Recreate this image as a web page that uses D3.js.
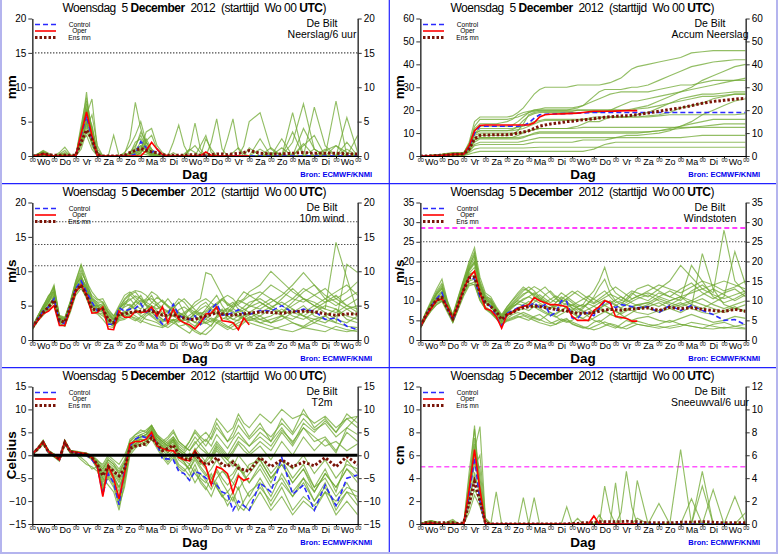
<!DOCTYPE html>
<html>
<head>
<meta charset="utf-8">
<script src="https://cdn.jsdelivr.net/npm/d3@7"></script>
<style>
body { margin: 0; background: #fff; }
svg { display: block; font-family: "Liberation Sans", Arial, sans-serif; }
</style>
</head>
<body>
<svg id="chart" width="778" height="554"></svg>
<script>
// forecast steps (hours after Wo 00 UTC), 6-hourly to day 10, then 12-hourly
const hours = [0,6,12,18,24,30,36,42,48,54,60,66,72,78,84,90,96,102,108,114,120,126,132,138,144,150,156,162,168,174,180,186,192,198,204,210,216,222,228,234,240,252,264,276,288,300,312,324,336,348,360];
const dayLabels = ["Wo","Do","Vr","Za","Zo","Ma","Di","Wo","Do","Vr","Za","Zo","Ma","Di","Wo"];
const legendLabels = ["Control", "Oper", "Ens mn"];
const titleParts = [["Woensdag  5 ", "normal"], ["December", "bold"], ["  2012  (starttijd  Wo 00 ", "normal"], ["UTC", "bold"], [")", "normal"]];

// tick labels per panel
const precipTicks = [0,5,10,15,20];
const accumTicks = [0,10,20,30,40,50,60];
const windTicks = [0,5,10,15,20];
const gustTicks = [0,5,10,15,20,25,30,35];
const tempTicks = [-15,-10,-5,0,5,10,15];
const snowTicks = [0,2,4,6,8,10,12];

// reference lines
const precipRefs = [15];
const windRefs = [10.8, 13.9, 17.2];
const gustRefs = [20, 25];
const gustAlarm = [28.5];
const snowAlarm = [5];
const tempZero = [0];

// ---- Neerslag/6 uur (mm)
const precipControl = [0,.1,.3,.1, 0,0,0,0, 0,3.0,5.8,2.5, 0,0,0,0, 0,0,0,.3, 2.1,1.2,.5,1.0, .1,0,0,0, 0,0,0,0, 0,0,0,0, 0,0,0,0, 0, 0,0,0,0,0,0,0,0,0,0];
const precipOper = [0,.1,.3,.1, 0,0,0,0, 0,3.2,6.4,3.0, 0,0,0,0, 0,0,0,0, 0,.8,2.0,1.0, .2,0,0,0, 0,0,0,0, .6,.1,0,0, 0,0,0,0, 0];
const precipMean = [0,.1,.3,.2, .1,.1,.1,.1, .1,2.0,3.8,2.5, .2,0,0,0, 0,.1,.5,.8, 1.1,.8,.6,.5, .2,.1,.1,.1, .1,.2,.2,.1, .2,.2,.3,.3, .2,.3,.4,.5, .8, .4,.3,.3,.4,.5,.4,.4,.4,.3,.3];
const precipMembers = [
  [0,.2,.6,.2, 0,0,.3,0, 0,3.5,9.3,2.0, 0,0,0,0, 0,0,.5,1.5, 3.0,1.2,.5,.2, 0,0,0,0, .3,1.0,.5,0, 0,0,0,0, 0,.5,1.2,.3, 0, 0,.5,.2,0,0,0,.8,1.5,.5,0],
  [0,.1,.3,.1, 0,.5,1.3,.2, 0,4.0,7.5,3.0, .2,0,0,0, 0,.3,2.5,7.8, 4.0,1.5,.5,0, 0,0,.5,0, 0,0,0,0, 0,2.0,5.4,1.0, 0,0,0,0, 0, 1.0,0,0,2.0,7.6,1.0,0,0,0,0],
  [0,.3,.8,.4, 0,.2,.5,.1, 0,2.5,6.0,8.3, 1.0,0,0,0, 0,0,0,.5, 1.2,2.5,1.0,.3, 0,0,0,0, 0,1.0,4.8,1.0, 0,0,0,0, 0,0,0,1.5, 5.0, 6.3,1.0,0,0,0,0,1.0,0,0,0],
  [0,0,.2,0, 0,0,0,0, 0,2.0,5.0,1.5, 0,0,0,3.0, 0,0,0,.8, 2.0,.8,0,0, 0,0,0,0, 0,0,0,0, 0,0,0,0, 2.5,5.4,1.0,0, 0, 0,1.2,0,0,0,7.1,1.5,0,0,0],
  [0,.2,.5,.2, 0,0,.1,0, 0,3.0,8.0,4.0, .3,0,0,0, 0,.5,1.5,3.0, 5.0,2.0,.8,0, 0,0,0,0, 0,0,0,0, 0,0,0,0, 0,0,0,0, 0, 0,0,2.5,0,0,0,0,8.0,0,0],
  [0,.1,.2,.1, 0,0,0,0, 0,1.0,3.5,2.0, 0,0,0,0, 0,0,0,.3, .8,3.5,4.0,1.5, .5,0,0,0, 0,0,0,0, 0,0,0,0, 0,0,0,0, 0, 0,0,0,3.5,0,0,0,0,5.6,.5],
  [0,0,.3,.2, 0,.3,.8,0, 0,3.8,6.5,4.5, .5,0,0,0, 0,0,.2,.6, 1.5,1.0,.3,0, 0,0,2.0,4.5, 1.5,0,0,0, 0,0,0,0, 0,0,0,0, 0, 0,0,0,0,1.5,3.0,0,0,0,3.0],
  [0,.2,.4,0, 0,0,0,0, 0,2.8,5.5,2.5, .3,0,0,0, 0,0,0,0, .5,2.0,1.0,0, 0,0,0,0, 0,.8,1.5,.5, 0,0,0,0, 0,0,0,0, 0, 0,0,1.2,0,0,0,0,0,1.0,0],
  [0,.3,.7,.3, 0,0,.2,0, 0,4.5,8.5,3.5, .2,0,0,0, 0,0,0,1.2, 3.5,2.0,.5,0, 0,0,0,0, 0,0,0,0, 2.5,1.0,0,0, 0,0,0,0, 0, 0,0,0,0,4.0,1.0,0,0,0,0],
  [0,0,.1,0, 0,0,.1,0, 0,2.2,4.5,1.8, 0,0,0,0, 0,0,.3,2.0, 2.5,1.0,.2,0, 0,0,0,0, 0,0,0,0, 0,0,0,0, 0,0,0,0, 1.2, 0,0,0,0,0,0,0,1.5,0,0],
  [0,.1,.3,.1, 0,.2,.3,0, 0,3.2,7.0,3.0, .2,0,0,0, 0,0,0,.4, 1.0,.5,0,0, 0,0,0,0, 0,0,0,1.5, 3.0,.5,0,0, 0,0,0,0, 0, 2.5,0,0,0,0,0,0,0,2.0,0],
  [0,.2,.5,.1, 0,0,0,0, 0,1.5,4.0,6.0, 1.5,0,0,0, 0,0,0,0, .3,.2,0,0, 0,0,0,0, 0,0,0,0, 0,0,0,0, 0,0,0,0, 0, 0,0,0,6.3,0,0,0,0,0,0],
  [0,0,.2,.1, 0,0,0,0, 0,2.0,3.0,1.0, 0,0,0,0, 0,0,0,0, .5,1.5,.5,0, 0,0,0,0, 0,0,0,0, 0,0,0,0, 0,0,0,0, 0, 0,0,0,0,0,1.0,0,0,0,0],
  [0,.2,.5,.2, 0,0,0,0, 0,3.5,6.8,2.0, 0,0,0,0, 0,0,.5,1.0, 1.5,.8,.2,0, 0,0,0,0, 0,0,0,0, 0,0,0,0, 0,0,0,0, 0, 0,0,0,0,1.8,0,0,0,0,0],
  [0,.1,.2,0, 0,0,.2,0, 0,2.5,5.2,4.2, .5,0,0,0, 0,0,0,.2, .8,.5,.2,0, 0,0,0,0, 0,0,0,0, 0,0,0,0, 0,0,0,0, 0, 0,0,0,0,0,0,0,0,0,0],
  [0,.3,.5,.2, 0,0,0,0, 0,1.8,4.8,3.8, .6,0,0,0, 0,0,0,0, .5,2.2,3.0,1.0, 0,0,0,0, 0,0,0,0, 0,0,0,0, 0,0,0,0, 0, 0,0,0,0,0,0,0,0,0,0]
];

// ---- Accum Neerslag (mm)
const accumControl = [0,0,.1,.2, .3,.5,.7,.8, .8,4,10,13, 13,13,13,13, 13,13,13,13.2, 14.5,16.5,18,18.2, 18.3,18.4,18.5,18.5, 18.6,18.7,18.8,18.9, 19,19,19,19, 19,19,19,19, 19, 19,19,19,19,19,19,19,19,19,19];
const accumOper = [0,0,.1,.2, .3,.5,.7,.8, .8,4.5,11,13.3, 13.5,13.5,13.5,13.5, 13.5,13.5,13.5,13.5, 13.5,14.5,17,18, 18.2,18.3,18.4,18.5, 18.6,18.7,19,19.3, 19.5,19.5,19.5,19.5, 19.6,19.7,19.8,19.8, 19.8];
const accumMean = [0,0,.1,.2, .3,.5,.7,.8, .9,3,7.5,9, 9.2,9.2,9.3,9.3, 9.3,9.5,10,10.5, 11,12,13,13.5, 14,14.3,14.6,15, 15.2,15.5,15.8,16, 16.3,16.6,16.9,17.1, 17.3,17.5,17.6,17.8, 18, 18.8,19.5,20.3,21,22,23,23.8,24.3,24.8,25.2];
const accumMembers = [
  [0,0,.2,.4, .6,1.0,1.2,1.2, 1.2,6,15,17, 17,17,17,17, 17,17.5,19,21, 24,27,29,30, 30,30,30,30, 30.5,31,31,31, 31,31,31.5,32, 33,34,36,38, 39, 40,41,42,43,45,45.5,46,46,46,46],
  [0,0,.1,.2, .3,.5,.6,.6, .6,4,9,10, 10,10,10,10, 10,10,10,10.5, 11,11.5,12,12, 12,12,12,12, 12,12.2,12.5,12.5, 12.5,12.5,12.5,12.5, 12.5,12.5,12.5,12.5, 12.5, 12.5,12.5,12.5,12.5,12.5,12.5,12.5,12.5,12.5,12.5],
  [0,0,0,.1, .1,.2,.3,.3, .3,1.5,3,3.5, 3.5,3.5,3.5,3.5, 3.5,3.5,3.5,3.5, 3.6,3.7,3.8,3.8, 3.8,3.8,3.8,3.8, 3.8,3.8,3.8,3.8, 3.8,3.8,3.8,3.8, 3.8,3.8,3.8,3.8, 3.8, 3.8,3.8,3.8,3.8,3.8,3.8,3.8,3.8,3.8,3.8],
  [0,.1,.3,.5, .8,1.2,1.5,1.5, 1.5,5,12,14, 14,14,14,14.5, 15,16,18,19, 19.5,20,20,20, 20,20,20,20, 20.5,21,22,24, 26,28,29,29, 29,29,29.5,30, 30, 31,33,35,37,39,40,41,41.5,42,42],
  [0,0,.2,.3, .5,.8,1.0,1.0, 1.0,3,7,8, 8,8,8,8, 8,8.2,9,10, 11,11.5,12,12, 12,12,12,12, 12.5,13,14,15, 15,15,16,17, 17,17,17,17, 17, 17.5,18,19,21,22,23,25,26,27,27],
  [0,.1,.2,.3, .4,.6,.8,.8, .8,4,10,12, 12,12,12,12, 12,12,12.5,13, 14,15,15.5,16, 16,16,16,16, 16,16,16,16, 16,16.5,17,17, 17,17,17,17, 17, 17,17.5,18,18,18,18,18,18,18,18.5],
  [0,0,.1,.2, .3,.5,.6,.6, .6,3.5,8,9, 9,9,9,9, 9,9.5,11,14, 18,19,19.5,19.5, 19.5,19.5,19.5,19.5, 19.5,20,20,20, 20,20,20,20, 20,20,20,20.5, 21, 22,24,26,28,30,33,35,37,39,40],
  [0,0,.1,.2, .3,.4,.5,.5, .5,2,5,6, 6,6,6,6, 6,6,6,6.5, 7,7.5,8,8, 8,8,8,8, 8,8,8,8, 8,8,8,8, 8,8,8,8, 8, 8,8,8,8,8.5,9,9,9,9,9],
  [0,.1,.3,.4, .6,1.0,1.3,1.3, 1.3,5,11,13, 13,13,13,13, 13,13.5,15,17, 19,20,20.5,21, 21,21,21,21, 21,21.5,22,23, 24,25,26,27, 27.5,28,28,28, 28, 28,29,30,31,31,32,33,33,33,33],
  [0,0,.1,.1, .2,.3,.4,.4, .4,2.5,6,7.5, 7.5,7.5,7.5,7.5, 7.5,7.5,7.5,8, 9,10,10.5,10.5, 10.5,10.5,10.5,10.5, 10.5,10.5,10.5,10.5, 10.5,10.5,10.5,10.5, 10.5,10.5,10.5,10.5, 10.5, 10.5,11,12,13,14,15,16,16,16,16],
  [0,0,.2,.3, .4,.7,.9,.9, .9,4.5,10,11, 11,11,11,11, 11,11,11.5,12, 13,14,15,15.5, 15.5,15.5,15.5,15.5, 15.5,15.5,16,16.5, 17,17,17,17, 17,17,17,17.5, 18, 19,21,23,25,26,27,27,27.5,28,28],
  [0,0,0,0, .1,.1,.2,.2, .2,.8,1.5,2, 2,2,2,2, 2,2,2,2, 2,2,2,2, 2,2,2,2, 2,2,2,2.5, 3,4,5,5.5, 6,6,6,6, 6, 6,6,6,6,6,6,6,6,6,6],
  [0,.1,.2,.3, .5,.8,1.0,1.0, 1.0,4,9.5,11, 11,11,11,11, 11,11.5,13,15.5, 17.5,18.5,19,19, 19,19,19,19, 19,19,19,19, 19,19,19.5,20, 21,22,23,24, 24, 25,26,27,28,29,30,31,32,33,34],
  [0,0,.1,.2, .3,.5,.6,.6, .6,3,7,8, 8,8,8,8, 8,8,8,8.5, 9,9.5,10,10, 10,10,10,10, 10,10,10,10, 10,10,10,10, 10,10,10,10, 10, 10.5,11,11.5,12,12.5,13,13.5,14,14,14],
  [0,.1,.2,.4, .6,.9,1.1,1.1, 1.1,5,13,16, 16,16,16,16, 16,16.5,17,18, 19,19.5,20,20, 20,20,20,20, 20,20,20,20, 20,20,20,20, 20,20,20,20, 20.5, 21,22,23,24,25,26,26,26.5,27,27],
  [0,0,.1,.2, .3,.4,.5,.5, .5,2,4.5,5, 5,5,5,5, 5,5,5,5, 5.5,6,6,6, 6,6,6,6, 6,6.5,7,7, 7,7,7,7.5, 8,8.5,9,9, 9, 9.5,10,11,13,15,18,20,22,24,25]
];

// ---- 10m wind (m/s)
const windControl = [1.8,3.0,4.2,4.8, 6.0,2.5,2.4,5.0, 7.5,8.6,7.0,5.5, 4.2,4.5,2.3,2.3, 4.7,4.2,4.5,4.6, 5.3,4.0,4.5,3.2, 2.3,3.8,5.2,3.6, 3.2,3.0,3.5,2.3, 3.5,4.5,5.3,3.6, 3.7,4.0,4.4,3.8, 3.7, 4.3,4.2,5.0,4.0,4.5,4.2,3.0,3.2,2.0,1.5];
const windOper = [1.8,2.8,3.8,4.2, 5.0,2.1,2.1,4.5, 7.0,8.0,6.5,3.9, 4.0,4.8,1.6,1.5, 4.2,3.3,3.3,4.2, 4.0,4.1,4.8,3.5, 4.8,2.5,4.5,3.0, 2.5,2.2,1.6,2.5, 3.8,3.9,4.8,2.8, 2.7,2.5,1.5,3.2, 2.2];
const windMean = [1.8,3.0,4.0,4.8, 5.8,2.8,2.6,4.8, 7.2,8.0,6.5,4.5, 4.4,4.5,3.0,2.5, 3.8,3.8,4.0,4.1, 4.2,4.3,4.2,4.0, 3.6,3.6,3.7,3.4, 3.2,3.0,3.0,3.3, 3.5,3.7,4.0,3.8, 3.7,3.6,3.7,3.8, 3.9, 4.1,4.0,3.9,4.1,4.2,4.1,3.8,3.6,3.8,3.8];
const windMembers = [
  [1.6,3.2,4.5,5.5, 7.5,3.0,2.8,5.0, 7.8,9.5,7.0,5.5, 4.5,5.0,3.5,2.8, 4.5,5.5,6.0,5.0, 4.5,5.5,6.5,5.0, 4.0,3.5,4.5,5.5, 4.0,3.0,2.5,3.5, 4.5,5.5,6.5,5.0, 4.0,4.5,6.0,7.0, 6.5, 5.5,4.5,6.0,7.5,6.0,5.0,4.5,14.2,9.0,4.0],
  [2.0,3.5,4.8,6.5, 7.0,3.2,3.0,5.5, 8.5,10.8,8.0,5.0, 5.0,4.0,2.5,2.0, 3.5,4.0,4.5,5.5, 6.5,5.0,4.0,3.5, 3.0,2.5,3.0,2.0, 1.5,1.0,2.0,3.0, 2.5,2.0,3.5,4.5, 3.0,2.5,2.0,3.0, 4.0, 3.5,2.5,3.0,4.0,5.0,3.5,3.0,2.5,11.0,9.8],
  [1.5,2.8,3.8,4.5, 6.5,2.5,2.0,4.5, 7.0,8.5,7.5,6.0, 5.5,5.5,4.0,3.0, 4.0,5.0,6.5,7.0, 6.0,5.5,5.0,4.5, 5.0,6.0,5.0,4.0, 3.5,4.5,5.5,6.0, 9.8,9.5,8.0,6.5, 5.0,5.5,4.5,4.0, 5.0, 6.5,8.0,7.0,6.0,5.5,6.5,7.5,6.0,5.0,4.5],
  [1.8,3.0,4.2,5.0, 5.8,2.8,2.5,4.8, 7.2,8.0,6.5,4.2, 4.0,3.5,2.8,2.2, 3.0,3.2,3.8,4.2, 3.5,3.0,2.8,2.5, 2.0,2.5,3.0,2.8, 2.5,2.0,1.5,1.0, 0.8,1.5,2.5,2.0, 1.5,2.0,2.5,2.8, 2.5, 2.0,1.5,2.0,2.5,1.8,1.5,1.2,2.0,1.5,1.2],
  [1.7,3.3,4.6,5.8, 6.8,3.5,3.2,5.5, 8.0,9.0,7.8,6.5, 5.8,6.0,4.5,3.5, 5.0,6.5,7.0,6.2, 5.5,6.0,7.0,6.5, 5.5,5.0,4.5,4.0, 3.5,3.0,4.0,5.0, 5.5,4.5,4.0,3.5, 4.0,5.0,5.5,6.0, 7.0, 8.0,10.0,8.5,7.0,6.0,5.0,6.0,7.0,8.0,6.5],
  [1.9,3.1,3.9,4.8, 6.2,2.9,2.2,4.2, 6.8,7.8,6.0,4.0, 3.8,3.0,2.0,1.8, 3.2,3.5,4.0,3.5, 3.0,3.8,4.5,3.8, 3.0,2.8,2.5,2.0, 2.2,2.8,3.5,4.0, 3.5,3.0,2.5,3.0, 3.5,3.0,2.8,3.5, 4.0, 3.0,3.5,4.5,3.5,3.0,4.0,5.0,4.5,3.5,3.0],
  [1.6,3.4,4.8,6.0, 7.8,3.3,2.6,5.2, 8.2,9.8,8.5,7.0, 6.0,5.5,4.2,3.5, 4.5,6.0,6.8,7.2, 7.0,6.5,5.5,5.0, 4.5,4.0,5.0,6.0, 5.5,4.5,3.5,3.0, 3.5,4.0,5.0,6.0, 6.5,6.0,5.0,4.5, 4.0, 5.0,6.0,5.0,4.0,3.5,4.5,5.5,6.5,5.0,4.0],
  [1.8,2.9,4.0,5.2, 6.0,2.6,2.4,4.6, 7.5,8.2,6.8,4.8, 4.2,4.8,3.2,2.5, 3.8,4.2,3.5,3.0, 2.5,3.5,4.0,3.2, 2.8,3.5,4.2,3.8, 3.0,2.5,2.0,2.5, 3.0,3.8,4.5,4.0, 3.5,3.0,3.5,4.0, 3.5, 2.5,3.0,3.5,2.5,2.0,3.0,3.5,2.5,2.0,1.8],
  [1.7,3.0,4.3,5.6, 6.5,3.1,2.8,5.0, 7.6,8.8,7.2,5.2, 4.8,4.2,3.0,2.6, 4.2,4.8,5.2,4.5, 4.0,4.5,5.0,4.2, 3.8,4.2,3.5,3.0, 2.8,3.2,3.8,4.5, 5.0,4.2,3.8,3.2, 3.0,3.5,4.2,4.8, 5.5, 6.0,5.0,4.0,5.5,7.0,8.0,6.5,5.5,4.5,5.0],
  [1.9,3.3,4.4,5.4, 7.0,3.4,3.0,5.3, 8.0,9.2,7.6,5.8, 5.2,4.6,3.3,2.4, 3.6,3.8,4.4,5.0, 5.8,5.2,4.6,4.0, 3.6,3.2,2.8,2.6, 3.0,3.6,4.2,3.6, 3.0,2.6,3.2,3.8, 4.4,4.0,3.4,3.0, 3.2, 4.0,4.8,5.5,4.5,3.5,3.0,2.5,3.5,4.5,3.5],
  [1.5,2.7,3.6,4.4, 5.5,2.4,2.0,4.0, 6.5,7.5,6.2,4.5, 4.0,3.8,2.5,2.0, 2.8,3.0,3.5,3.2, 2.8,2.5,2.2,2.0, 1.8,2.2,2.8,3.2, 2.5,1.8,1.2,0.8, 1.5,2.2,3.0,2.5, 2.0,1.5,1.8,2.5, 3.0, 2.5,2.0,1.5,1.2,1.8,2.5,2.0,1.5,1.2,1.5],
  [1.8,3.4,4.9,6.2, 8.0,3.6,3.3,5.6, 8.6,11.0,8.8,6.0, 5.0,4.4,3.6,3.0, 4.6,5.2,5.8,6.4, 6.0,5.0,4.6,5.2, 5.8,5.0,4.0,3.4, 3.8,4.4,5.0,5.6, 6.0,5.4,4.8,4.2, 4.6,5.2,5.8,5.4, 5.0, 4.5,5.5,6.5,8.0,9.8,8.0,6.0,5.0,6.0,7.0],
  [1.6,3.1,4.1,5.0, 6.3,2.7,2.3,4.4, 7.1,8.3,6.9,5.0, 4.4,4.0,2.8,2.2, 3.3,4.0,4.8,5.6, 5.0,4.2,3.6,3.0, 2.6,3.0,3.6,4.4, 4.8,4.2,3.4,2.8, 2.4,2.8,3.4,4.0, 4.6,4.2,3.6,3.2, 2.8, 3.5,4.5,3.5,3.0,4.0,5.0,4.0,3.0,2.5,3.5],
  [1.8,3.2,4.6,5.9, 7.2,3.2,2.9,5.1, 7.9,9.1,7.4,5.6, 4.9,5.3,3.8,2.9, 4.4,5.4,5.0,4.4, 3.8,4.6,5.4,6.2, 5.6,4.8,4.2,3.6, 4.0,4.6,4.0,3.4, 4.0,4.6,5.2,5.8, 5.2,4.6,4.0,4.4, 4.8, 5.5,4.5,4.0,5.0,6.0,5.5,4.5,4.0,5.0,6.0],
  [1.7,2.9,4.0,4.9, 6.0,2.8,2.6,4.8, 7.4,8.6,7.0,5.0, 4.6,4.4,3.0,2.6, 3.6,3.6,3.2,2.8, 3.4,4.0,3.4,2.8, 2.2,1.8,2.4,3.0, 3.6,3.0,2.6,2.2, 2.6,3.2,2.8,2.2, 1.8,2.4,3.0,3.6, 3.2, 3.0,2.5,3.5,4.5,3.5,2.5,3.5,4.5,3.0,2.5],
  [1.9,3.5,5.0,6.4, 7.6,3.4,3.1,5.4, 8.3,10.2,8.2,6.2, 5.4,4.9,4.0,3.2, 4.8,5.8,6.6,5.8, 5.2,5.8,6.0,5.4, 4.6,4.2,4.8,5.4, 6.0,5.2,4.4,3.8, 4.2,4.8,5.4,6.0, 5.4,4.8,5.2,5.8, 6.4, 7.0,6.0,5.0,6.0,7.5,6.5,5.5,6.0,7.0,8.5]
];

// ---- Windstoten (m/s)
const gustControl = [3.3,6.0,8.5,10.5, 12.0,8.0,5.0,9.0, 13.0,16.0,15.5,11.0, 9.5,8.5,6.0,3.5, 6.8,7.5,8.2,8.8, 8.5,9.5,8.2,9.0, 6.2,7.0,10.0,9.8, 5.6,5.5,7.0,6.8, 6.2,8.0,9.8,9.4, 8.2,9.0,8.8,8.5, 8.2, 8.5,7.0,8.8,7.5,8.8,7.5,6.5,5.0,5.2,3.8];
const gustOper = [3.3,6.0,8.0,10.0, 10.5,8.5,5.5,9.0, 13.0,16.0,17.5,12.0, 8.0,7.5,6.0,3.0, 6.5,7.0,8.0,8.5, 9.0,10.8,10.0,9.5, 9.0,9.0,8.8,8.5, 6.0,5.0,5.0,5.0, 7.5,8.5,10.0,9.5, 6.0,5.8,5.5,4.8, 4.8];
const gustMean = [3.5,6.2,8.5,10.2, 10.8,8.0,5.5,9.0, 12.8,15.8,16.0,12.0, 9.5,8.5,7.2,5.2, 6.5,7.0,7.8,8.2, 8.5,8.6,8.5,8.3, 8.0,7.8,7.6,7.4, 7.0,6.8,6.8,6.9, 7.0,7.3,7.6,7.8, 7.7,7.6,7.8,7.9, 8.0, 8.2,7.5,8.3,8.0,8.2,7.8,7.5,7.3,7.8,7.3];
const gustMembers = [
  [3.2,6.5,9.0,11.5, 13.0,9.0,5.5,10.0, 14.5,18.0,20.0,13.0, 10.0,9.5,7.5,5.0, 7.0,8.5,9.5,10.5, 11.0,12.0,10.5,9.0, 8.0,9.5,11.0,10.0, 8.0,7.0,8.0,9.5, 11.0,13.5,15.5,12.0, 10.0,9.0,10.5,12.0, 11.0, 10.0,12.0,11.0,10.0,12.5,14.0,12.0,28.0,15.0,12.0],
  [3.8,7.0,10.0,13.0, 15.5,10.0,6.5,11.0, 15.5,20.0,23.5,16.0, 12.0,11.0,8.5,6.5, 8.5,10.0,11.5,13.0, 12.5,11.0,10.0,11.5, 12.5,11.0,9.0,8.0, 7.5,8.5,9.0,8.0, 7.0,8.0,9.0,10.0, 9.0,8.0,7.5,8.5, 9.0, 9.5,8.5,10.0,11.0,9.0,8.0,9.5,11.0,22.5,14.0],
  [3.0,5.5,7.5,9.0, 10.0,7.5,4.5,8.0, 12.0,14.5,14.0,10.0, 8.0,7.0,5.5,4.0, 5.0,5.5,6.0,5.5, 5.0,6.0,6.5,5.5, 4.5,4.0,5.0,5.5, 4.0,3.5,3.0,3.5, 4.5,5.0,4.0,3.5, 3.0,4.0,5.0,4.5, 4.0, 3.5,4.0,5.0,4.0,3.5,3.0,4.0,4.5,3.5,3.0],
  [3.5,6.8,9.5,12.0, 14.0,9.5,6.0,10.5, 15.0,19.0,21.5,14.5, 11.0,10.5,8.0,6.0, 8.0,9.5,11.0,12.5, 13.5,12.5,11.0,10.0, 9.0,8.5,9.5,10.5, 9.5,8.5,9.0,11.0, 12.5,15.0,18.5,14.0, 12.0,11.0,10.0,11.5, 13.0, 14.0,12.5,11.0,13.0,14.5,12.0,10.5,12.0,13.0,11.0],
  [3.3,6.0,8.3,10.0, 11.0,8.0,5.0,9.0, 12.5,16.0,16.5,12.0, 9.5,8.5,6.5,4.5, 6.0,7.0,7.5,8.0, 7.5,8.5,9.0,8.0, 7.0,6.5,7.5,8.5, 7.5,6.0,5.5,6.5, 7.5,8.5,7.5,6.5, 6.0,7.0,8.0,7.5, 7.0, 6.5,7.5,8.5,9.5,8.0,7.0,6.5,7.5,8.5,7.0],
  [3.6,6.4,8.8,11.0, 12.5,8.8,5.8,9.5, 13.5,17.0,18.5,13.0, 10.5,9.0,7.0,5.5, 7.5,9.0,10.0,9.5, 9.0,10.5,11.5,10.5, 9.5,10.5,12.0,11.0, 10.0,9.0,8.5,9.5, 10.5,11.5,12.5,11.0, 9.5,10.0,11.5,12.5, 12.0, 11.0,13.0,15.0,19.0,16.0,13.0,14.0,15.0,14.0,13.0],
  [3.1,5.8,8.0,9.8, 10.5,7.8,4.8,8.5, 12.0,15.0,15.5,11.0, 8.5,7.5,6.0,4.2, 5.5,6.5,7.0,6.5, 6.0,5.5,5.0,6.0, 7.0,6.0,5.0,4.5, 5.0,6.0,7.0,6.0, 5.0,4.5,5.5,6.5, 7.5,6.5,5.5,5.0, 5.5, 6.0,5.0,4.5,5.5,6.5,5.5,4.5,5.0,6.0,5.5],
  [3.4,6.2,8.6,10.6, 12.0,8.6,5.4,9.4, 13.6,17.5,19.5,13.5, 10.2,9.8,7.6,5.6, 7.2,8.6,9.2,8.8, 8.4,9.6,10.6,9.8, 8.8,8.0,8.6,9.4, 8.8,8.0,7.2,7.8, 8.6,9.4,10.2,9.6, 8.8,8.2,9.0,9.8, 10.5, 11.5,10.0,9.0,10.5,19.0,15.0,11.0,9.5,10.5,12.0],
  [3.2,6.0,8.4,10.4, 11.5,8.2,5.0,8.8, 13.0,16.5,17.5,12.5, 9.8,8.8,6.8,4.8, 6.4,7.4,8.2,9.0, 9.8,9.0,8.0,7.2, 6.4,5.8,6.6,7.4, 6.8,6.0,5.4,4.8, 5.6,6.4,7.2,6.6, 6.0,5.4,6.2,7.0, 7.8, 8.5,9.5,8.0,7.0,8.5,22.0,13.0,9.0,8.0,7.5],
  [3.5,6.6,9.2,11.8, 13.5,9.2,6.0,10.2, 14.8,18.5,22.0,14.0, 10.8,10.0,7.8,5.8, 7.8,9.2,10.6,11.8, 12.2,11.4,10.4,9.6, 10.4,11.2,10.4,9.6, 8.8,9.6,10.4,11.2, 10.4,9.6,8.8,9.4, 10.2,11.0,10.2,9.4, 8.8, 9.5,11.0,12.5,11.0,10.0,11.5,13.0,11.5,10.0,11.5],
  [3.0,5.6,7.8,9.4, 10.2,7.4,4.6,8.2, 11.8,14.2,14.8,10.5, 8.2,7.2,5.6,4.0, 5.2,5.8,6.4,7.0, 6.4,5.8,5.2,4.6, 4.2,4.8,5.4,4.8, 4.2,3.6,3.2,2.8, 3.4,4.0,4.6,4.0, 3.4,3.0,3.6,4.2, 4.8, 4.0,3.5,3.0,3.5,4.5,4.0,3.5,3.0,3.5,4.0],
  [3.7,6.9,9.6,12.4, 14.5,9.8,6.2,10.8, 15.2,19.5,22.5,15.0, 11.5,10.2,8.2,6.2, 8.4,10.2,12.0,13.5, 12.5,11.5,12.5,13.5, 12.0,10.5,9.5,10.5, 11.5,12.5,11.5,10.5, 9.5,10.5,11.5,12.5, 13.5,12.5,11.5,10.5, 11.0, 12.5,14.0,13.0,12.0,13.5,15.0,14.0,12.5,13.5,15.0],
  [3.3,6.1,8.5,10.3, 11.2,8.4,5.2,9.2, 13.2,16.8,17.2,12.2, 9.4,8.6,6.6,4.6, 6.2,7.2,8.0,8.6, 9.2,8.4,7.6,6.8, 6.2,6.8,7.6,8.4, 9.0,8.2,7.4,6.6, 7.2,8.0,8.8,8.0, 7.2,6.6,7.4,8.2, 9.0, 8.0,7.0,8.0,9.0,10.0,9.0,8.0,7.0,8.0,9.0],
  [3.4,6.3,8.7,10.8, 12.2,8.7,5.6,9.6, 14.0,17.8,19.8,13.8, 10.6,9.4,7.4,5.4, 7.0,8.2,9.4,10.2, 11.0,10.2,9.4,8.6, 8.0,8.8,9.6,9.0, 8.2,7.6,8.4,9.2, 8.6,7.8,7.2,8.0, 8.8,9.6,9.0,8.4, 8.0, 9.0,10.5,9.5,8.5,9.5,10.5,9.0,8.0,9.0,10.0],
  [2.9,5.4,7.4,9.0, 9.8,7.0,4.4,7.8, 11.2,13.8,14.2,10.2, 7.8,6.8,5.4,3.8, 4.8,5.2,5.8,6.2, 5.6,5.0,4.4,4.0, 3.6,4.0,4.6,5.2, 4.6,4.0,3.4,3.0, 2.6,3.0,3.6,4.2, 3.8,3.2,2.8,3.4, 4.0, 3.5,3.0,3.5,4.0,3.5,3.0,2.8,3.2,3.0,2.8],
  [3.6,6.7,9.3,11.6, 13.2,9.4,5.9,10.0, 14.5,18.2,20.8,14.2, 11.0,9.6,7.8,5.8, 7.6,8.8,10.2,11.4, 12.6,13.6,12.8,11.6, 10.4,9.6,10.4,11.4, 12.4,11.6,10.6,9.8, 9.2,10.0,10.8,11.6, 11.0,10.2,9.6,10.4, 11.2, 12.0,11.0,10.0,11.0,12.0,13.0,11.5,10.5,11.5,12.5]
];

// ---- T2m (Celsius)
const tempControl = [0.2,1.5,3.0,0.6, 0.0,-1.0,3.0,0.8, 0.5,0.3,0.0,-1.0, -2.5,-8.5,-4.0,-6.0, -10.8,-3.0,2.0,3.5, 4.2,3.8,4.5,2.5, -0.8,-0.8,-1.0,-3.5, -4.0,-5.5,-3.5,-4.0, -5.0,-6.0,-6.5,-8.0, -8.5,-12.0,-10.0,-11.0, -12.0, -6.0,-8.0,-0.5,-8.5,-6.5,-12.0,-6.5,-11.0,-5.0,-4.3];
const tempOper = [0.3,1.5,3.0,0.8, 0.0,-1.0,3.0,0.8, 0.7,0.5,0.3,-0.5, -2.5,-9.0,-2.2,-5.0, -9.5,-4.0,2.5,3.0, 3.0,3.5,5.0,2.0, 1.5,1.0,1.0,-0.5, -1.0,-1.2,1.0,-1.0, -2.5,-6.5,-2.5,-3.0, -4.0,-8.2,-4.5,-5.5, -5.0];
const tempMean = [0.3,1.4,2.7,0.7, 0.0,-0.8,2.8,0.8, 0.5,0.3,0.2,-0.5, -2.0,-4.5,-2.5,-3.5, -4.5,-3.0,1.5,2.0, 2.2,2.5,3.8,2.5, 1.0,1.5,2.2,0.2, -0.8,-1.0,0.5,-1.2, -2.0,-1.8,-0.5,-2.0, -2.5,-1.5,-2.8,-3.2, -3.5, -0.5,-2.5,-1.0,-2.5,-1.5,-2.3,-0.5,-2.5,-0.3,-2.0];
const tempMembers = [
  [0.0,1.2,2.5,0.5, -0.3,-1.2,2.5,0.5, 0.3,0.0,-0.2,-1.0, -3.0,-6.0,-3.5,-5.0, -7.0,-4.0,2.0,3.5, 4.0,4.5,6.0,3.0, 2.0,3.0,4.0,2.0, 1.0,3.0,5.0,3.5, 2.0,4.0,7.0,5.0, 3.0,5.0,8.0,6.0, 4.0, 7.0,3.0,8.0,5.0,10.0,6.0,8.0,5.0,9.0,7.0],
  [0.4,1.6,3.2,1.0, 0.2,-0.8,3.2,1.0, 0.8,0.6,0.4,-0.3, -1.5,-3.0,-1.0,-2.0, -3.5,-1.5,3.0,4.0, 4.5,5.0,6.5,4.0, 3.0,4.0,5.5,3.0, 2.0,1.0,3.0,1.5, 0.5,-1.0,1.0,-0.5, -2.0,-1.0,-3.0,-4.0, -2.0, -1.0,-5.0,-2.0,-6.0,-3.0,-8.0,-4.0,-7.0,-3.0,-6.0],
  [0.2,1.4,2.8,0.6, -0.2,-1.0,2.8,0.6, 0.4,-0.5,-1.5,-3.0, -2.5,-5.0,-6.5,-8.0, -12.0,-6.0,0.5,2.0, 3.0,2.5,4.5,2.0, 0.5,-1.0,0.5,-2.0, -3.0,-4.5,-2.0,-5.0, -6.0,-4.0,-7.0,-9.0, -8.0,-10.0,-7.0,-11.0, -12.0, -8.0,-12.0,-9.0,-13.0,-10.0,-12.0,-8.0,-13.0,-10.0,-13.0],
  [0.3,1.5,3.0,0.8, 0.1,-0.9,3.1,0.9, 0.7,0.5,0.3,-0.4, -2.0,-4.0,-2.0,-3.0, -5.0,-2.5,1.5,2.5, 3.5,3.0,5.0,3.5, 2.5,1.5,3.0,1.0, 0.0,-1.0,1.5,0.0, -1.5,0.0,2.5,1.0, -0.5,1.0,3.0,2.0, 0.5, 3.0,1.0,5.0,2.0,6.0,3.0,4.0,1.0,5.0,3.0],
  [0.1,1.3,2.6,0.7, -0.1,-1.1,2.7,0.7, 0.5,0.3,0.1,-0.6, -2.2,-7.0,-4.0,-6.0, -9.0,-5.0,1.0,2.5, 3.0,3.5,5.5,2.5, 1.0,0.0,1.0,-1.0, -2.0,-3.0,-1.0,-3.0, -4.5,-3.0,-1.0,-3.0, -5.0,-4.0,-2.0,-4.0, -6.0, -3.0,-7.0,-5.0,-9.0,-6.0,-10.0,-7.0,-11.0,-8.0,-9.0],
  [0.5,1.7,3.3,1.1, 0.3,-0.7,3.3,1.1, 0.9,0.7,0.5,0.0, -1.0,-2.5,-0.5,-1.5, -3.0,-1.0,3.5,4.5, 5.0,5.5,6.5,4.5, 3.5,2.5,4.0,2.5, 1.5,3.0,5.5,4.0, 3.0,5.0,8.0,6.5, 5.0,6.0,9.0,7.0, 6.0, 9.0,7.0,10.0,8.0,9.0,7.0,8.5,6.0,8.0,8.5],
  [0.2,1.4,2.9,0.7, 0.0,-1.0,2.9,0.8, 0.6,0.4,0.2,-0.6, -2.5,-8.0,-3.0,-5.5, -10.0,-4.5,2.0,3.0, 3.5,3.0,4.5,3.0, 2.0,0.5,2.0,-0.5, -1.5,-3.0,-0.5,-2.5, -4.0,-6.0,-3.5,-6.0, -8.0,-6.5,-4.0,-7.0, -9.0, -5.0,-9.0,-4.0,-8.0,-5.0,-10.0,-6.0,-12.0,-8.0,-11.0],
  [0.3,1.5,3.1,0.9, 0.2,-0.8,3.0,0.9, 0.7,0.5,0.3,-0.3, -1.8,-3.5,-1.5,-2.5, -4.0,-2.0,2.5,3.5, 4.0,4.0,5.5,3.0, 1.5,2.5,3.5,1.5, 0.5,2.0,4.0,2.5, 1.0,-0.5,2.0,0.5, -1.0,-2.5,0.0,-1.5, -3.0, 0.0,-4.0,-1.0,-3.0,0.0,-4.0,-1.0,-5.0,-2.0,-3.0],
  [0.0,1.1,2.4,0.4, -0.4,-1.3,2.4,0.4, 0.2,-1.0,-2.0,-2.5, -3.5,-6.5,-5.0,-7.0, -11.0,-7.0,0.0,1.5, 2.5,2.0,3.5,1.5, -0.5,-2.0,-0.5,-3.0, -4.0,-5.5,-3.0,-6.0, -7.5,-5.0,-3.0,-5.0, -6.5,-5.0,-2.5,-4.5, -6.0, -2.0,-6.0,-1.0,-5.0,-2.0,-7.0,-3.0,-8.0,-1.0,-4.0],
  [0.4,1.6,3.1,1.0, 0.2,-0.7,3.1,1.0, 0.8,0.6,0.4,-0.2, -1.2,-2.0,0.0,-1.0, -2.0,0.0,3.0,4.5, 5.5,5.0,6.5,4.5, 3.0,2.0,3.5,1.5, 0.5,-0.5,1.0,-1.0, -2.0,-1.0,1.5,0.0, -1.0,0.5,2.5,1.0, 0.0, 2.0,-1.0,3.0,0.0,4.0,1.0,3.5,0.5,6.0,8.5],
  [0.2,1.3,2.7,0.6, -0.1,-1.0,2.7,0.6, 0.4,0.2,0.0,-0.7, -2.8,-5.5,-3.0,-4.5, -8.0,-3.5,1.5,2.5, 3.0,3.5,5.0,2.5, 1.0,2.0,3.0,0.5, -1.0,-2.0,0.0,-1.5, -3.0,-5.0,-7.0,-9.0, -10.0,-8.0,-11.0,-12.0, -10.0, -7.0,-10.0,-6.0,-9.0,-5.0,-8.0,-4.0,-7.0,-3.0,-5.0],
  [0.3,1.5,3.0,0.8, 0.0,-0.9,3.0,0.8, 0.6,0.4,0.2,-0.5, -2.0,-4.5,-2.5,-4.0, -6.0,-3.0,2.0,3.0, 4.0,4.5,6.0,4.0, 2.5,3.5,5.0,3.0, 2.0,1.0,2.5,4.0, 5.0,3.5,6.0,4.5, 3.0,4.0,6.5,5.0, 3.5, 6.0,4.0,7.0,4.5,8.0,5.5,7.0,4.0,6.0,4.5],
  [0.1,1.2,2.6,0.5, -0.2,-1.1,2.6,0.6, 0.4,0.1,-0.1,-0.9, -3.0,-7.5,-4.5,-6.5, -10.5,-5.5,1.0,2.0, 2.5,3.0,4.0,2.0, 0.0,-1.5,0.0,-2.5, -3.5,-2.0,-4.0,-5.5, -7.0,-9.0,-6.0,-8.5, -11.0,-9.0,-12.0,-10.0, -8.0, -6.0,-11.0,-7.0,-12.0,-9.0,-11.0,-8.0,-10.0,-7.0,-8.0],
  [0.4,1.6,3.2,0.9, 0.1,-0.8,3.1,0.9, 0.7,0.5,0.3,-0.3, -1.5,-3.0,-1.0,-2.0, -4.0,-1.5,2.5,3.5, 4.5,4.0,5.0,3.5, 2.0,1.0,2.5,0.0, -1.0,0.5,-0.5,-2.0, -1.0,1.0,3.0,1.5, 0.0,2.0,4.0,3.0, 2.0, 4.0,2.0,5.5,3.0,6.0,4.0,2.0,3.0,1.0,2.5],
  [0.2,1.4,2.8,0.7, 0.0,-1.0,2.8,0.7, 0.5,0.3,0.1,-0.6, -2.3,-5.0,-2.5,-4.5, -7.0,-3.5,1.5,3.0, 3.5,3.5,5.0,3.0, 1.5,0.5,2.0,0.0, -1.5,-3.5,-6.0,-4.0, -5.5,-7.5,-5.0,-3.5, -4.5,-6.0,-7.5,-5.5, -4.0, -1.0,-5.0,-2.0,-6.0,-3.0,-7.0,-5.0,-9.0,-6.0,-10.0],
  [0.3,1.5,2.9,0.8, 0.0,-0.9,2.9,0.8, 0.6,0.4,0.2,-0.4, -1.8,-4.0,-2.0,-3.5, -5.5,-2.5,2.0,3.5, 4.0,4.5,5.5,4.0, 3.0,2.0,3.5,1.0, 0.0,-1.0,1.0,2.5, 3.5,2.0,4.5,3.0, 1.5,3.5,5.0,3.5, 2.0, 5.0,3.0,6.0,2.5,7.0,5.0,7.5,5.0,8.0,6.0]
];

// ---- Sneeuwval/6 uur (cm)
const snowControl = [0,0,.1,0, 0,0,0,0, 0,2.5,5.8,2.0, 0,0,0,0, 0,0,0,0, 0,0,0,0, 0,0,0,0, 0,0,0,0, 0,0,0,0, 0,0,0,0, 0, 0,0,0,0,0,0,0,0,0,0];
const snowOper = [0,0,.1,0, 0,0,0,0, 0,3.0,6.5,3.0, 0,0,0,0, 0,0,0,0, 0,0,0,0, 0,0,0,0, 0,0,0,0, .7,0,0,0, 0,0,0,0, 0];
const snowMean = [0,.1,.1,.1, .1,.1,.1,.05, .1,1.8,3.7,2.0, .1,0,0,0, 0,0,0,0, 0,0,0,0, 0,0,0,0, .05,.05,.1,.1, .1,.2,.2,.2, .2,.2,.25,.2, .2, .1,.1,.1,.15,.15,.2,.15,.1,.1,.1];
const snowMembers = [
  [0,.1,.2,.1, 0,.1,.2,0, 0,3.0,8.6,2.0, 0,0,0,0, 0,0,0,0, 0,0,0,0, 0,0,0,0, 0,0,0,0, 0,0,3.3,1.0, 0,0,0,0, 0, 0,0,0,0,0,0,0,0,0,0],
  [0,.2,.3,.1, 0,.2,.4,0, 0,4.0,6.5,8.5, .5,0,0,0, 0,0,0,0, 0,0,0,0, 0,0,0,0, 0,0,0,0, 0,0,0,0, 0,1.0,4.6,1.5, 0, 0,0,0,6.5,0,0,0,0,0,0],
  [0,0,.1,0, 0,0,.1,0, 0,2.5,5.5,3.0, 0,0,2.8,0, 0,0,0,0, 0,0,0,0, 0,0,0,0, 0,0,0,0, 0,0,0,0, 0,0,0,0, 0, 0,0,0,0,0,4.6,0,0,0,0],
  [0,.1,.2,.2, 0,0,0,0, 0,3.5,7.5,4.0, .2,0,0,0, 0,0,0,2.3, 0,0,0,0, 0,0,0,0, 0,0,0,0, 0,0,0,0, 3.6,0,0,0, 0, 0,0,0,0,0,0,3.0,0,0,0],
  [0,0,.1,0, 0,0,0,0, 0,2.0,4.5,2.5, 0,0,0,0, 0,0,0,0, 0,0,0,0, 0,0,0,1.5, 0,0,0,0, 0,0,0,0, 0,0,0,0, 3.8, 0,0,0,0,0,0,0,0,2.4,0],
  [0,.2,.3,.1, 0,.1,.3,0, 0,4.5,8.3,3.5, 0,0,0,0, 0,0,0,0, 0,2.3,0,0, 0,0,0,0, 0,0,0,0, 0,0,0,0, 0,0,0,0, 0, 0,1.8,0,0,0,3.3,0,0,0,0],
  [0,0,.1,.1, 0,0,0,0, 0,1.5,3.0,2.0, 0,0,0,0, 0,0,0,0, 0,0,0,0, 0,0,0,0, 0,0,0,0, 0,0,0,0, 0,0,0,0, 0, 0,0,0,0,2.2,0,0,0,0,1.0],
  [0,.1,.2,0, 0,0,0,0, 0,3.0,6.0,4.8, .3,0,0,0, 0,0,0,0, 0,0,0,0, 0,0,0,0, 0,.5,0,0, 0,0,0,0, 0,0,0,0, 0, 0,0,0,0,0,0,0,0,0,0],
  [0,.1,.3,.2, 0,0,.2,0, 0,2.8,7.0,3.0, 0,0,0,0, 0,0,0,0, 0,0,0,0, 0,0,0,0, 0,0,0,0, 0,0,0,0, 0,0,0,0, 0, 0,0,0,0,0,0,0,0,0,0],
  [0,0,.1,0, 0,0,0,0, 0,1.0,2.5,1.5, 0,0,0,0, 0,0,0,0, 0,0,0,0, 0,0,0,0, 0,0,0,0, 0,0,0,0, 0,0,0,0, 0, 0,0,0,0,0,0,0,0,0,0],
  [0,.1,.2,.1, 0,0,.1,0, 0,3.2,5.0,6.0, .5,0,0,0, 0,0,0,0, 0,0,0,0, 0,0,0,0, 0,0,0,0, 0,0,0,0, 0,0,0,0, .5, 0,0,0,0,0,0,0,0,0,0],
  [0,.2,.2,.1, 0,0,0,0, 0,2.2,4.0,3.2, 0,0,0,0, 0,0,0,0, 0,0,0,0, 0,0,0,0, 0,0,0,0, 0,.8,0,0, 0,0,0,0, 0, 0,0,0,0,0,0,0,0,0,0]
];

// ---------------------------------------------------------------
const svg = d3.select("#chart");
const plotL = 32.3, plotR = 357.7, plotT = 18.5, plotB = 156;
const colStep = 388, rowStep = 184;
const fontFam = "Liberation Sans, Arial, sans-serif";

const panels = [
  {col: 0, row: 0, unit: "mm", name: "Neerslag/6 uur", domain: [0, 20], ticks: precipTicks,
   members: precipMembers, control: precipControl, oper: precipOper, mean: precipMean, dotted: precipRefs},
  {col: 1, row: 0, unit: "mm", name: "Accum Neerslag", domain: [0, 60], ticks: accumTicks,
   members: accumMembers, control: accumControl, oper: accumOper, mean: accumMean},
  {col: 0, row: 1, unit: "m/s", name: "10m wind", domain: [0, 20], ticks: windTicks,
   members: windMembers, control: windControl, oper: windOper, mean: windMean, dotted: windRefs},
  {col: 1, row: 1, unit: "m/s", name: "Windstoten", domain: [0, 35], ticks: gustTicks,
   members: gustMembers, control: gustControl, oper: gustOper, mean: gustMean, dotted: gustRefs, alarm: gustAlarm, alarmColor: "#ff00ff"},
  {col: 0, row: 2, unit: "Celsius", name: "T2m", domain: [-15, 15], ticks: tempTicks,
   members: tempMembers, control: tempControl, oper: tempOper, mean: tempMean, zero: tempZero},
  {col: 1, row: 2, unit: "cm", name: "Sneeuwval/6 uur", domain: [0, 12], ticks: snowTicks,
   members: snowMembers, control: snowControl, oper: snowOper, mean: snowMean, alarm: snowAlarm, alarmColor: "#ff55ff"}
];

const ctrlColor = "#2a2aff", operColor = "#ff0000", meanColor = "#7a1408", memberColor = "#6fa832";

function drawPanel(p, k) {
  const g = svg.append("g").attr("transform", `translate(${p.col * colStep},${p.row * rowStep})`);
  const x = d3.scaleLinear().domain([0, 360]).range([plotL, plotR]);
  const y = d3.scaleLinear().domain(p.domain).range([plotB, plotT]);
  const line = d3.line().x((d, i) => x(hours[i])).y(d => y(d));

  g.append("clipPath").attr("id", "clip" + k)
    .append("rect").attr("x", plotL).attr("y", plotT - 1)
    .attr("width", plotR - plotL).attr("height", plotB - plotT + 1);

  // title
  const title = g.append("text")
    .attr("x", 194.5).attr("y", 11.5)
    .attr("text-anchor", "middle")
    .attr("font-size", 12)
    .attr("textLength", 264).attr("lengthAdjust", "spacing")
    .style("white-space", "pre");
  titleParts.forEach(t => title.append("tspan").attr("font-weight", t[1]).text(t[0]));

  // reference lines
  (p.dotted || []).forEach(v => {
    g.append("line").attr("x1", plotL).attr("x2", plotR)
      .attr("y1", y(v)).attr("y2", y(v))
      .attr("stroke", "#000").attr("stroke-width", 1.1).attr("stroke-dasharray", "1,2");
  });
  (p.alarm || []).forEach(v => {
    g.append("line").attr("x1", plotL).attr("x2", plotR)
      .attr("y1", y(v)).attr("y2", y(v))
      .attr("stroke", p.alarmColor).attr("stroke-width", 1.5).attr("stroke-dasharray", "5,3");
  });

  const plot = g.append("g").attr("clip-path", `url(#clip${k})`);

  plot.selectAll("path.member")
    .data(p.members)
    .enter().append("path")
    .attr("class", "member")
    .attr("d", line)
    .attr("fill", "none")
    .attr("stroke", memberColor)
    .attr("stroke-opacity", 0.75)
    .attr("stroke-width", 1.15);

  (p.zero || []).forEach(v => {
    g.append("line").attr("x1", plotL).attr("x2", plotR)
      .attr("y1", y(v)).attr("y2", y(v))
      .attr("stroke", "#000").attr("stroke-width", 3);
  });

  plot.append("path").attr("d", line(p.control))
    .attr("fill", "none").attr("stroke", ctrlColor)
    .attr("stroke-width", 1.6).attr("stroke-dasharray", "5,3");
  plot.append("path").attr("d", line(p.oper))
    .attr("fill", "none").attr("stroke", operColor)
    .attr("stroke-width", 1.6);
  plot.append("path").attr("d", line(p.mean))
    .attr("fill", "none").attr("stroke", meanColor)
    .attr("stroke-width", 3).attr("stroke-dasharray", "2.5,2");

  // axes
  const leftAxis = g.append("g").attr("transform", `translate(${plotL},0)`)
    .call(d3.axisLeft(y).tickValues(p.ticks).tickSize(4).tickSizeOuter(0).tickPadding(2));
  const rightAxis = g.append("g").attr("transform", `translate(${plotR},0)`)
    .call(d3.axisRight(y).tickValues(p.ticks).tickSize(4).tickSizeOuter(0).tickPadding(2));
  [leftAxis, rightAxis].forEach(a => {
    a.select(".domain").attr("stroke", "#444").attr("stroke-width", 1.6);
    a.selectAll(".tick line").attr("stroke", "#333");
    a.selectAll("text").attr("font-size", 10).attr("font-family", fontFam).attr("fill", "#000");
  });

  const dayBounds = dayLabels.map((d, i) => i * 24).concat([360]);
  const bottom = g.append("g").attr("transform", `translate(0,${plotB})`)
    .call(d3.axisBottom(x).tickValues(dayBounds).tickSize(2.5).tickSizeOuter(0).tickPadding(0).tickFormat(() => "00"));
  bottom.select(".domain").attr("stroke", "#000").attr("stroke-width", 1.2);
  bottom.selectAll("text").attr("font-size", 5.5).attr("font-family", fontFam).attr("fill", "#000");

  const dayAxis = g.append("g").attr("transform", `translate(0,${plotB})`)
    .call(d3.axisBottom(x).tickValues(dayLabels.map((d, i) => i * 24 + 12)).tickSize(0).tickPadding(2.5)
      .tickFormat((d, i) => dayLabels[i]));
  dayAxis.select(".domain").remove();
  dayAxis.selectAll("text").attr("font-size", 9).attr("font-family", fontFam).attr("fill", "#000");

  // axis labels
  g.append("text")
    .attr("transform", `translate(15.5,${(plotT + plotB) / 2}) rotate(-90)`)
    .attr("text-anchor", "middle")
    .attr("font-size", 13.5).attr("font-weight", "bold")
    .text(p.unit);
  g.append("text")
    .attr("x", (plotL + plotR) / 2).attr("y", 179)
    .attr("text-anchor", "middle")
    .attr("font-size", 13.5).attr("font-weight", "bold")
    .text("Dag");
  g.append("text")
    .attr("x", 372).attr("y", 177)
    .attr("text-anchor", "end")
    .attr("font-size", 7.5).attr("font-weight", "bold")
    .attr("fill", "#0000ee")
    .text("Bron: ECMWF/KNMI");

  // station / parameter
  g.append("text").attr("x", 322).attr("y", 27).attr("text-anchor", "middle")
    .attr("font-size", 10.5).text("De Bilt");
  g.append("text").attr("x", 322).attr("y", 38).attr("text-anchor", "middle")
    .attr("font-size", 10.5).text(p.name);

  // legend
  const legY = [24.5, 31, 37.5];
  const legStyles = [
    {stroke: ctrlColor, width: 1.6, dash: "5,3"},
    {stroke: operColor, width: 1.6, dash: null},
    {stroke: meanColor, width: 3, dash: "2.5,2"}
  ];
  legendLabels.forEach((lab, i) => {
    g.append("line").attr("x1", 35).attr("x2", 56)
      .attr("y1", legY[i]).attr("y2", legY[i])
      .attr("stroke", legStyles[i].stroke).attr("stroke-width", legStyles[i].width)
      .attr("stroke-dasharray", legStyles[i].dash);
    g.append("text").attr("x", 79.5).attr("y", legY[i] + 2.3)
      .attr("text-anchor", "middle").attr("font-size", 6.6)
      .text(lab);
  });
}

panels.forEach(drawPanel);

// panel separators and outer frame
svg.append("line").attr("x1", 389.3).attr("x2", 389.3).attr("y1", 0).attr("y2", 554)
  .attr("stroke", "#2222ff").attr("stroke-width", 1.2);
[183.7, 367.7].forEach(v => {
  svg.append("line").attr("x1", 0).attr("x2", 778).attr("y1", v).attr("y2", v)
    .attr("stroke", "#2222ff").attr("stroke-width", 1.2);
});
svg.append("path").attr("d", "M1,0 V553 H777 V0")
  .attr("fill", "none").attr("stroke", "#b4b4ee").attr("stroke-width", 2);
</script>
</body>
</html>
